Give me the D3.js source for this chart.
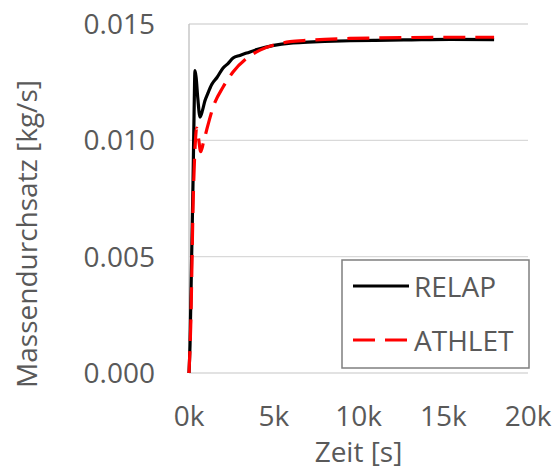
<!DOCTYPE html>
<html>
<head>
<meta charset="utf-8">
<script src="https://cdn.jsdelivr.net/npm/d3@7"></script>
<style>
  body { margin: 0; background: #fff; }
  text { font-family: "Open Sans", sans-serif; fill: #595959; }
</style>
</head>
<body>
<div id="chart"></div>
<script>
const width = 555, height = 471;
const margin = {left: 189, right: 27, top: 24, bottom: 98};

// time in seconds, mass flow in kg/s
const relapTime = [0, 60, 150, 240, 300, 354, 420, 520, 650, 800, 940, 1100, 1340, 1650, 2000, 2300, 2600, 3000, 3400, 4000, 5000, 6000, 7000, 8000, 9500, 11000, 13000, 15400, 18000];
const relapFlow = [0, 0.0012, 0.0048, 0.0083, 0.0112, 0.0130, 0.0127, 0.0118, 0.0110, 0.0113, 0.0117, 0.0120, 0.0124, 0.0127, 0.0131, 0.0133, 0.01354, 0.01365, 0.01375, 0.0139, 0.01408, 0.01418, 0.01422, 0.01425, 0.01428, 0.0143, 0.01432, 0.01434, 0.01433];

const athletTime = [0, 100, 250, 380, 450, 560, 690, 850, 1040, 1430, 2020, 2610, 3400, 4190, 5000, 5960, 7000, 8000, 9500, 11000, 13000, 15400, 18000];
const athletFlow = [0, 0.002, 0.0075, 0.0100, 0.01053, 0.0101, 0.00951, 0.0099, 0.01044, 0.01144, 0.0123, 0.01295, 0.01352, 0.01388, 0.0141, 0.01424, 0.0143, 0.01434, 0.01438, 0.0144, 0.01442, 0.01443, 0.01443];

const xTicks = [0, 5000, 10000, 15000, 20000];
const yTicks = [0, 0.005, 0.010, 0.015];

const seriesNames = ["RELAP", "ATHLET"];
const seriesColors = ["#000000", "#ff0000"];

let svg = d3.select("#chart")
    .append("svg")
    .attr("width", width)
    .attr("height", height);

let x = d3.scaleLinear()
    .domain([0, 20000])
    .range([margin.left, width - margin.right]);

let y = d3.scaleLinear()
    .domain([0, 0.015])
    .range([height - margin.bottom, margin.top]);

// horizontal gridlines
svg.append("g")
    .selectAll("line")
    .data(yTicks)
    .enter()
    .append("line")
    .attr("x1", x(0))
    .attr("x2", x(20000))
    .attr("y1", d => y(d))
    .attr("y2", d => y(d))
    .attr("stroke", "#d9d9d9")
    .attr("stroke-width", 1.3);

// y axis line
svg.append("line")
    .attr("x1", x(0)).attr("x2", x(0))
    .attr("y1", y(0)).attr("y2", y(0.015))
    .attr("stroke", "#bfbfbf")
    .attr("stroke-width", 1.3);

// y tick labels
svg.append("g")
    .selectAll("text")
    .data(yTicks)
    .enter()
    .append("text")
    .attr("x", 155)
    .attr("y", d => y(d) + 10)
    .style("text-anchor", "end")
    .style("font-size", "28px")
    .text(d => d3.format(".3f")(d));

// x tick labels
svg.append("g")
    .selectAll("text")
    .data(xTicks)
    .enter()
    .append("text")
    .attr("x", d => x(d))
    .attr("y", 426)
    .style("text-anchor", "middle")
    .style("font-size", "28px")
    .text(d => (d / 1000) + "k");

// axis titles
svg.append("text")
    .attr("x", (x(0) + x(20000)) / 2)
    .attr("y", 462)
    .style("text-anchor", "middle")
    .style("font-size", "28px")
    .text("Zeit [s]");

svg.append("text")
    .attr("transform", "translate(37, 234) rotate(-90)")
    .style("text-anchor", "middle")
    .style("font-size", "28px")
    .text("Massendurchsatz [kg/s]");

let line = d3.line()
    .x(d => x(d[0]))
    .y(d => y(d[1]))
    .curve(d3.curveMonotoneX);

let relap = relapTime.map((t, i) => [t, relapFlow[i]]);
let athlet = athletTime.map((t, i) => [t, athletFlow[i]]);

svg.append("path")
    .datum(relap)
    .attr("d", line)
    .attr("fill", "none")
    .attr("stroke", seriesColors[0])
    .attr("stroke-width", 3.2);

svg.append("path")
    .datum(athlet)
    .attr("d", line)
    .attr("fill", "none")
    .attr("stroke", seriesColors[1])
    .attr("stroke-width", 3.2)
    .attr("stroke-dasharray", "22,10");

// legend
let legend = svg.append("g");
legend.append("rect")
    .attr("x", 342)
    .attr("y", 260)
    .attr("width", 187)
    .attr("height", 108)
    .attr("fill", "#fff")
    .attr("stroke", "#7f7f7f")
    .attr("stroke-width", 1.5);

let items = legend.selectAll(".item")
    .data(seriesNames)
    .enter()
    .append("g")
    .attr("transform", (d, i) => `translate(0, ${286 + i * 54})`);

items.append("line")
    .attr("x1", 353).attr("x2", 409)
    .attr("y1", 0).attr("y2", 0)
    .attr("stroke", (d, i) => seriesColors[i])
    .attr("stroke-width", 3)
    .attr("stroke-dasharray", (d, i) => i === 1 ? "22,10" : null);

items.append("text")
    .attr("x", 414)
    .attr("y", 11)
    .style("font-size", "28px")
    .text(d => d);
</script>
</body>
</html>
